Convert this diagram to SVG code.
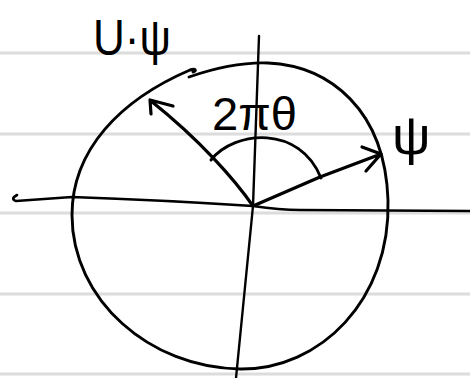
<svg xmlns="http://www.w3.org/2000/svg" width="470" height="378" viewBox="0 0 470 378">
<style>
.rule{stroke:#dcdcdc;stroke-width:3;fill:none}
.ink{stroke:#000;fill:none;stroke-linecap:round;stroke-linejoin:round}
.lbl{font-family:"Liberation Sans","DejaVu Sans",sans-serif;fill:#000}
</style>
<rect width="470" height="378" fill="#fff"/>
<g id="paper">
<line class="rule" x1="0" y1="53" x2="470" y2="53"/>
<line class="rule" x1="0" y1="134" x2="470" y2="134"/>
<line class="rule" x1="0" y1="213" x2="470" y2="213"/>
<line class="rule" x1="0" y1="294" x2="470" y2="294"/>
<line class="rule" x1="0" y1="374" x2="470" y2="374"/>
</g>
<g id="circle">
<path class="ink" stroke-width="2.9" d="M189,77 C215,68 240,62 268,63 C330,66 385,110 388,200 C391,300 320,370 240,369 C150,368 72,300 72,215 C72,150 120,100 190,70 C196,68 197,71 193,72"/>
</g>
<g id="connectors">
<path id="x-axis" class="ink" stroke-width="2.6" d="M17,195 Q10,199 16,201 L72,197 Q160,200 253,206 Q280,210 300,210 L470,211"/>
<path id="y-axis" class="ink" stroke-width="2.4" d="M259,36 L253,206 L236,378"/>
<path id="psi-arrow" class="ink" stroke-width="3.2" d="M253,206 L320,177 L381,154 M362,147 L381,154 L366,171"/>
<path id="upsi-arrow" class="ink" stroke-width="3.2" d="M253,206 C235,180 200,140 151,101 M173,106 L150,100 L151,114"/>
<path id="angle-arc" class="ink" stroke-width="2.9" d="M211,160 C235,130 300,125 321,178"/>
</g>
<g id="label-upsi"><text class="lbl" x="93" y="55" font-size="50" textLength="78" lengthAdjust="spacingAndGlyphs">U·ψ</text></g>
<g id="label-angle"><text class="lbl" x="212" y="130" font-size="46" textLength="85" lengthAdjust="spacingAndGlyphs">2πθ</text></g>
<g id="label-psi"><text class="lbl" x="392" y="154" font-size="54">ψ</text></g>
</svg>
